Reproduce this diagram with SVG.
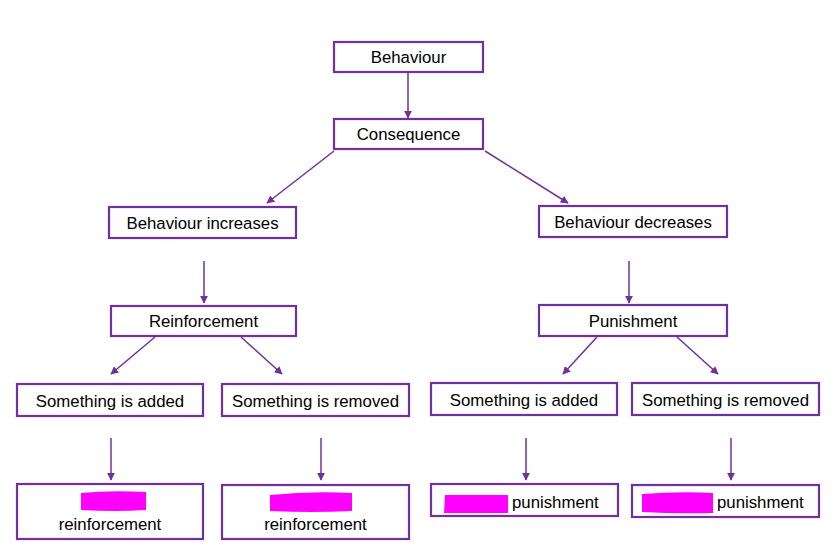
<svg xmlns="http://www.w3.org/2000/svg" width="837" height="552" viewBox="0 0 837 552">
<style>
.box{fill:#fff;stroke:#7030A0;stroke-width:2.2}
.t{font-family:"Liberation Sans",Arial,sans-serif;font-size:16.8px;fill:#000;text-anchor:middle}
.c{stroke:#7030A0;stroke-width:1.5;fill:none;marker-end:url(#ah)}
.blob{fill:#FF00FF}
</style>
<defs>
<marker id="ah" viewBox="0 0 10 10" refX="9" refY="5" markerWidth="8" markerHeight="8" markerUnits="userSpaceOnUse" orient="auto">
<path d="M0,0 L10,5 L0,10 z" fill="#7030A0"/>
</marker>
</defs>
<rect width="837" height="552" fill="#fff"/>
<g id="connectors">
<line class="c" x1="408" y1="73" x2="408" y2="118"/>
<line class="c" x1="334" y1="151" x2="267" y2="203"/>
<line class="c" x1="485" y1="151" x2="568" y2="203"/>
<line class="c" x1="204" y1="261" x2="204" y2="303"/>
<line class="c" x1="629" y1="261" x2="629" y2="303"/>
<line class="c" x1="155" y1="337" x2="111" y2="374"/>
<line class="c" x1="241" y1="337" x2="282" y2="374"/>
<line class="c" x1="597" y1="337" x2="563" y2="374"/>
<line class="c" x1="677" y1="337" x2="718" y2="374"/>
<line class="c" x1="111" y1="438" x2="111" y2="480"/>
<line class="c" x1="321" y1="438" x2="321" y2="480"/>
<line class="c" x1="526" y1="438" x2="526" y2="480"/>
<line class="c" x1="731" y1="438" x2="731" y2="480"/>
</g>
<g id="behaviour"><rect class="box" x="334" y="42" width="149" height="30"/><text class="t" x="408.5" y="63">Behaviour</text></g>
<g id="consequence"><rect class="box" x="334" y="119" width="149" height="30"/><text class="t" x="408.5" y="140">Consequence</text></g>
<g id="increases"><rect class="box" x="109" y="207" width="187" height="31"/><text class="t" x="202.5" y="228.5">Behaviour increases</text></g>
<g id="decreases"><rect class="box" x="539" y="206" width="188" height="31"/><text class="t" x="633" y="227.5">Behaviour decreases</text></g>
<g id="reinforcement"><rect class="box" x="111" y="306" width="185" height="30"/><text class="t" x="203.5" y="327">Reinforcement</text></g>
<g id="punishment"><rect class="box" x="539" y="305" width="188" height="31"/><text class="t" x="633" y="327">Punishment</text></g>
<g id="r-added"><rect class="box" x="17" y="384" width="186" height="32"/><text class="t" x="110" y="406.5">Something is added</text></g>
<g id="r-removed"><rect class="box" x="222" y="384" width="187" height="32"/><text class="t" x="315.5" y="406.5">Something is removed</text></g>
<g id="p-added"><rect class="box" x="431" y="383" width="186" height="32"/><text class="t" x="524" y="405.5">Something is added</text></g>
<g id="p-removed"><rect class="box" x="632" y="383" width="187" height="32"/><text class="t" x="725.5" y="405.5">Something is removed</text></g>
<g id="r-pos"><rect class="box" x="17" y="484" width="186" height="55"/><path class="blob" d="M81,493 Q110,490 146,492 L146,510 Q115,512 81,510 Z"/><text class="t" x="110" y="530">reinforcement</text></g>
<g id="r-neg"><rect class="box" x="222" y="485" width="187" height="54"/><path class="blob" d="M270,495 Q310,491 352,493 L352,511 Q312,513 270,511 Z"/><text class="t" x="315.5" y="530">reinforcement</text></g>
<g id="p-pos"><rect class="box" x="431" y="484" width="187" height="32"/><path class="blob" d="M445,495 L508,495 L508,513 L444,513 Z"/><text class="t" x="512" y="508" style="text-anchor:start">punishment</text></g>
<g id="p-neg"><rect class="box" x="632" y="485" width="187" height="32"/><path class="blob" d="M642,494 Q680,491 713,493 L713,513 Q678,514 642,512 Z"/><text class="t" x="717" y="508" style="text-anchor:start">punishment</text></g>
</svg>
